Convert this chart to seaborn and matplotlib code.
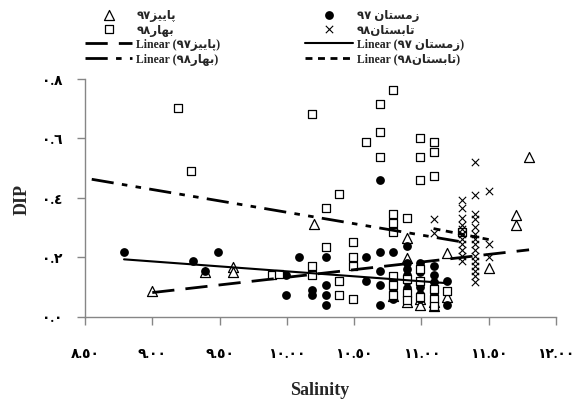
# DIP vs Salinity scatter with linear trend lines per season
import re
import numpy as np
import matplotlib
matplotlib.use("Agg")
import matplotlib.pyplot as plt
import seaborn as sns
from matplotlib.ticker import FuncFormatter

# ============================================================
# DATA (low points partly hidden under squares)
# ============================================================

winter_x = [8.79, 9.30, 9.39, 9.49, 9.99, 9.99, 10.09, 10.19, 10.19, 10.29,
            10.29, 10.29, 10.29, 10.59, 10.59, 10.69, 10.69, 10.69, 10.69, 10.69,
            10.79, 10.79, 10.79, 10.79, 10.89, 10.89, 10.89, 10.89, 10.89, 10.89,
            10.89, 10.89, 10.99, 10.99, 10.99, 10.99, 10.99, 10.99, 11.09, 11.09,
            11.09, 11.09, 11.09, 11.09, 11.19, 11.19, 11.19]
winter_y = [0.216, 0.187, 0.154, 0.216, 0.141, 0.073, 0.201, 0.089, 0.073, 0.201,
            0.106, 0.073, 0.040, 0.201, 0.121, 0.216, 0.154, 0.106, 0.040, 0.460,
            0.216, 0.093, 0.073, 0.059, 0.238, 0.180, 0.160, 0.140, 0.120, 0.095,
            0.075, 0.059, 0.180, 0.150, 0.120, 0.100, 0.075, 0.059, 0.170, 0.140,
            0.115, 0.093, 0.075, 0.059, 0.121, 0.087, 0.040]

autumn_x = [9.00, 9.39, 9.60, 9.60, 10.20, 10.89, 10.89, 11.09, 11.19, 11.19,
            11.50, 11.70, 11.70, 11.80, 10.79, 10.89, 10.99, 11.09, 10.99]
autumn_y = [0.085, 0.151, 0.166, 0.149, 0.311, 0.263, 0.196, 0.036, 0.213, 0.065,
            0.163, 0.342, 0.308, 0.536, 0.070, 0.050, 0.060, 0.050, 0.040]

spring_x = [9.19, 9.29, 9.89, 9.94, 10.19, 10.19, 10.19, 10.29, 10.29, 10.39,
            10.39, 10.39, 10.49, 10.49, 10.49, 10.49, 10.59, 10.69, 10.69, 10.69,
            10.79, 10.79, 10.79, 10.79, 10.79, 10.79, 10.79, 10.89, 10.89, 10.89,
            10.89, 10.99, 10.99, 10.99, 10.99, 10.99, 10.99, 11.09, 11.09, 11.09,
            11.09, 11.09, 11.09, 11.19, 11.30]
spring_y = [0.701, 0.491, 0.140, 0.143, 0.682, 0.171, 0.140, 0.364, 0.235, 0.412,
            0.121, 0.073, 0.250, 0.201, 0.171, 0.059, 0.589, 0.716, 0.620, 0.538,
            0.763, 0.345, 0.314, 0.284, 0.137, 0.107, 0.073, 0.331, 0.125, 0.080,
            0.055, 0.600, 0.538, 0.460, 0.160, 0.120, 0.065, 0.587, 0.555, 0.472,
            0.093, 0.059, 0.036, 0.087, 0.284]
spring_trend_start = 8.55

summer_x = [11.09, 11.09,
            11.30, 11.30, 11.30, 11.30, 11.30, 11.30, 11.30, 11.30, 11.30, 11.30, 11.30,
            11.40, 11.40, 11.40, 11.40, 11.40, 11.40, 11.40, 11.40, 11.40, 11.40,
            11.40, 11.40, 11.40, 11.40, 11.40,
            11.50, 11.50, 11.50]
summer_y = [0.328, 0.280,
            0.392, 0.364, 0.331, 0.308, 0.295, 0.278, 0.261, 0.244, 0.224, 0.205, 0.188,
            0.519, 0.409, 0.345, 0.328, 0.300, 0.278, 0.261, 0.244, 0.224, 0.205,
            0.188, 0.171, 0.154, 0.137, 0.115,
            0.424, 0.244, 0.199]

winter_label = "زمستان ۹۷"
summer_label = "تابستان۹۸"
autumn_label = "پاییز۹۷"
spring_label = "بهار۹۸"

x_ticks = [8.5, 9.0, 9.5, 10.0, 10.5, 11.0, 11.5, 12.0]
y_ticks = [0.0, 0.2, 0.4, 0.6, 0.8]

# ============================================================
# ARABIC SHAPING (matplotlib has no bidi / joining)
# ============================================================

FORMS = {
    "ا": ("\uFE8D", "\uFE8E", None, None),
    "ب": ("\uFE8F", "\uFE90", "\uFE91", "\uFE92"),
    "ت": ("\uFE95", "\uFE96", "\uFE97", "\uFE98"),
    "ر": ("\uFEAD", "\uFEAE", None, None),
    "ز": ("\uFEAF", "\uFEB0", None, None),
    "س": ("\uFEB1", "\uFEB2", "\uFEB3", "\uFEB4"),
    "م": ("\uFEE1", "\uFEE2", "\uFEE3", "\uFEE4"),
    "ن": ("\uFEE5", "\uFEE6", "\uFEE7", "\uFEE8"),
    "ه": ("\uFEE9", "\uFEEA", "\uFEEB", "\uFEEC"),
    "پ": ("\uFB56", "\uFB57", "\uFB58", "\uFB59"),
    "ی": ("\uFBFC", "\uFBFD", "\uFBFE", "\uFBFF"),
}


def shape(text):
    out = []
    for i, ch in enumerate(text):
        if ch not in FORMS:
            out.append(ch)
            continue
        f = FORMS[ch]
        prev = text[i - 1] if i > 0 else ""
        nxt = text[i + 1] if i + 1 < len(text) else ""
        join_prev = prev in FORMS and FORMS[prev][2] is not None
        join_next = nxt in FORMS and f[2] is not None
        if join_prev and join_next:
            out.append(f[3])
        elif join_prev:
            out.append(f[1])
        elif join_next:
            out.append(f[2])
        else:
            out.append(f[0])
    runs = re.findall(r"\d+|\D+", "".join(out))
    return "".join(r if r[0].isdigit() else r[::-1] for r in reversed(runs))


AR_DIGITS = str.maketrans("0123456789", "٠١٢٣٤٥٦٧٨٩")

lab_autumn = shape(autumn_label)
lab_winter = shape(winter_label)
lab_spring = shape(spring_label)
lab_summer = shape(summer_label)

# ============================================================
# PLOT
# ============================================================

sns.set_theme(style="white")
plt.rcParams["font.family"] = ["Liberation Serif", "DejaVu Sans"]
plt.rcParams["font.weight"] = "bold"

fig = plt.figure(figsize=(5.83, 4.06), dpi=100)
ax = fig.add_axes([85 / 583, 1 - 317.5 / 406, 471 / 583, 237.5 / 406])

sns.scatterplot(x=autumn_x, y=autumn_y, marker="^", s=52, color="white",
                edgecolor="black", linewidth=0.9, ax=ax,
                label=lab_autumn, zorder=3)
sns.scatterplot(x=winter_x, y=winter_y, marker="o", s=40, color="black",
                edgecolor="black", linewidth=0, ax=ax,
                label=lab_winter, zorder=3)
sns.scatterplot(x=spring_x, y=spring_y, marker="s", s=36, color="white",
                edgecolor="black", linewidth=0.9, ax=ax,
                label=lab_spring, zorder=3)
sns.scatterplot(x=summer_x, y=summer_y, marker="x", s=28, color="black",
                linewidth=0.8, ax=ax, label=lab_summer, zorder=3)

# trend lines
sns.regplot(x=autumn_x, y=autumn_y, scatter=False, ci=None, truncate=True, ax=ax,
            label="Linear (" + lab_autumn + ")",
            line_kws=dict(color="black", lw=2, dashes=(8, 4), zorder=4))
sns.regplot(x=winter_x, y=winter_y, scatter=False, ci=None, truncate=True, ax=ax,
            label="Linear (" + lab_winter + ")",
            line_kws=dict(color="black", lw=1.5, zorder=4))

k, b = np.polyfit(spring_x, spring_y, 1)
sx = np.linspace(spring_trend_start, max(spring_x), 50)
sns.lineplot(x=sx, y=k * sx + b, color="black", lw=2, ax=ax, zorder=4,
             label="Linear (" + lab_spring + ")")
ax.lines[-1].set_dashes((8, 3, 2, 3, 2, 3))

sns.regplot(x=summer_x, y=summer_y, scatter=False, ci=None, truncate=True, ax=ax,
            label="Linear (" + lab_summer + ")",
            line_kws=dict(color="black", lw=2, dashes=(2.5, 2), zorder=4))

# axes
ax.set_xlim(8.5, 12.0)
ax.set_ylim(0, 0.8)
ax.set_xticks(x_ticks)
ax.set_yticks(y_ticks)
ax.xaxis.set_major_formatter(FuncFormatter(lambda v, p: f"{v:.2f}".translate(AR_DIGITS)))
ax.yaxis.set_major_formatter(FuncFormatter(lambda v, p: f"{v:.1f}".translate(AR_DIGITS)))

for side in ["top", "right"]:
    ax.spines[side].set_visible(False)
for side in ["left", "bottom"]:
    ax.spines[side].set_color("#868686")
    ax.spines[side].set_linewidth(1)

ax.tick_params(axis="both", which="major", direction="out", length=6, width=1,
               color="#868686", labelsize=10, labelcolor="black")
ax.tick_params(axis="x", pad=16, bottom=True)
ax.tick_params(axis="y", pad=10, left=True)

ax.set_xlabel("Salinity", fontsize=13, fontweight="bold")
ax.set_ylabel("DIP", fontsize=13, fontweight="bold")
ax.xaxis.set_label_coords(0.499, -0.27)
ax.yaxis.set_label_coords(-0.115, 0.495)

# legend (two columns above the plot)
handles, labels = ax.get_legend_handles_labels()
lookup = dict(zip(labels, handles))
order = [lab_autumn, lab_spring,
         "Linear (" + lab_autumn + ")", "Linear (" + lab_spring + ")",
         lab_winter, lab_summer,
         "Linear (" + lab_winter + ")", "Linear (" + lab_summer + ")"]
if ax.get_legend() is not None:
    ax.get_legend().remove()
fig.legend([lookup[l] for l in order], order, loc="upper left",
           bbox_to_anchor=(85 / 583, 1 - 10 / 406), ncol=2, frameon=False,
           fontsize=8.5, handlelength=4.0, handletextpad=0.35, columnspacing=7.2,
           labelspacing=0.22, borderpad=0, borderaxespad=0, scatterpoints=1)

fig.savefig("out.png", dpi=100, facecolor="white")
